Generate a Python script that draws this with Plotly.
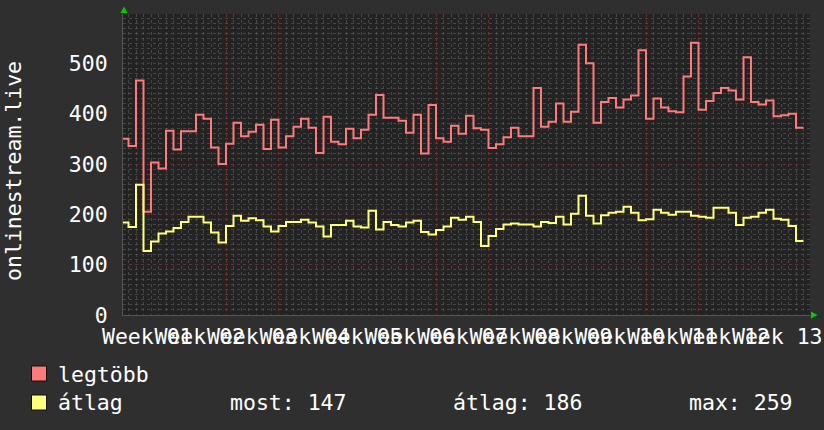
import plotly.graph_objects as go
import pandas as pd

# ---------------- data ----------------
start_date = "2024-01-01"

legtobb_values = [
    350, 336, 466, 205, 303, 291, 366, 329, 365, 365, 398, 390, 333, 300, 340, 382,
    355, 364, 378, 330, 388, 333, 355, 374, 390, 372, 322, 394, 344, 339, 370, 351,
    368, 398, 437, 392, 392, 386, 362, 398, 321, 417, 351, 344, 376, 360, 396, 371,
    368, 332, 339, 353, 372, 355, 355, 451, 374, 384, 420, 384, 404,
    537, 500, 382, 423, 431, 412, 428, 436, 526, 390, 430, 412, 405, 403, 474, 541,
    408, 425, 441, 451, 446, 428, 512, 423, 418, 426, 395, 397, 400, 372,
]

atlag_values = [
    184, 175, 259, 127, 146, 162, 166, 173, 185, 195, 195, 184, 164, 144, 177, 197,
    187, 192, 188, 176, 166, 177, 185, 185, 189, 184, 176, 156, 179, 179, 187, 176,
    174, 207, 170, 185, 179, 176, 184, 187, 165, 160, 169, 176, 193, 189, 195, 185,
    137, 157, 171, 180, 182, 180, 180, 176, 185, 183, 195, 180, 201,
    237, 197, 182, 198, 203, 205, 215, 203, 188, 190, 209, 203, 199, 205, 205, 197,
    195, 193, 213, 213, 203, 179, 193, 195, 203, 209, 191, 189, 177, 147,
]

series_names = ["legtöbb", "átlag"]
series_colors = ["#ff7b7b", "#ffff7b"]
stat_labels = ["most:", "átlag:", "max:"]
stat_values = [147, 186, 259]
y_title = "onlinestream.live"
x_range = ["2024-01-01 06:24", "2024-04-01 20:48"]
y_range = [0, 598]

# ---------------- figure ----------------
W, H = 824, 430
L, R, T, B = 123, 14, 14, 115
PW, PH = W - L - R, H - T - B


def px(x):
    return (x - L) / PW


def py(y):
    return (H - B - y) / PH


FONT = "DejaVu Sans Mono"
FS = 21.5
TXT = "#ffffff"

fig = go.Figure()
for vals, name, col in zip([legtobb_values, atlag_values], series_names, series_colors):
    dates = pd.date_range(start_date, periods=len(vals) + 1, freq="D")
    fig.add_trace(go.Scatter(
        x=dates, y=list(vals) + [vals[-1]], mode="lines", name=name,
        line=dict(color=col, width=2, shape="hv"), showlegend=False,
        hoverinfo="skip",
    ))

major_grid = "rgba(125,50,50,0.8)"
minor_grid = "rgba(105,105,105,0.5)"

fig.update_layout(
    width=W, height=H,
    margin=dict(l=L, r=R, t=T, b=B, autoexpand=False),
    paper_bgcolor="#2f2f2f",
    plot_bgcolor="#232323",
    font=dict(family=FONT, size=FS, color=TXT),
    xaxis=dict(
        type="date", range=x_range, automargin=False,
        tick0="2024-01-01", dtick=7 * 86400000,
        ticklabelmode="period", tickformat="Week %V",
        tickangle=0, ticks="", ticklabelstandoff=2,
        showgrid=True, gridcolor=major_grid, griddash="dot", gridwidth=1,
        minor=dict(dtick=86400000, showgrid=True, gridcolor=minor_grid,
                   griddash="dot", gridwidth=1),
        showline=True, linecolor="#555555", linewidth=1,
        zeroline=False, tickfont=dict(family=FONT, size=FS, color=TXT),
    ),
    yaxis=dict(
        range=y_range, dtick=100, tick0=0, ticks="", ticklabelstandoff=10,
        automargin=False,
        showgrid=True, gridcolor=major_grid, griddash="dot", gridwidth=1,
        minor=dict(dtick=10, showgrid=True, gridcolor=minor_grid,
                   griddash="dot", gridwidth=1),
        showline=True, linecolor="#555555", linewidth=1,
        zeroline=False, tickfont=dict(family=FONT, size=FS, color=TXT),
    ),
)

annotations = [
    dict(x=px(13), y=py(171), xref="paper", yref="paper", text=y_title,
         textangle=-90, showarrow=False, xanchor="center", yanchor="middle",
         font=dict(family=FONT, size=FS, color=TXT)),
]
rows_y = [374, 402]
for name, ry in zip(series_names, rows_y):
    annotations.append(dict(x=px(56), y=py(ry), xref="paper", yref="paper",
                            text=name, showarrow=False, xanchor="left",
                            yanchor="middle",
                            font=dict(family=FONT, size=FS, color=TXT)))
for lab, val, sx in zip(stat_labels, stat_values, [228, 451, 687]):
    annotations.append(dict(x=px(sx), y=py(rows_y[1]), xref="paper", yref="paper",
                            text=f"{lab} {val}", showarrow=False, xanchor="left",
                            yanchor="middle",
                            font=dict(family=FONT, size=FS, color=TXT)))
fig.update_layout(annotations=annotations)

shapes = []
for col, (y0, y1) in zip(series_colors, [(366, 381), (395, 410)]):
    shapes.append(dict(type="rect", xref="paper", yref="paper",
                       x0=px(31.5), x1=px(46.5), y0=py(y1), y1=py(y0),
                       fillcolor=col, line=dict(color="#111111", width=1)))
# axis arrows (rrdtool style)
shapes.append(dict(type="path", xref="paper", yref="paper",
                   path=f"M {px(120.5)},{py(13)} L {px(127.5)},{py(13)} L {px(124)},{py(6.5)} Z",
                   fillcolor="#00cc00", line=dict(color="#00cc00", width=0)))
shapes.append(dict(type="path", xref="paper", yref="paper",
                   path=f"M {px(811)},{py(311.5)} L {px(811)},{py(318.5)} L {px(817.5)},{py(315)} Z",
                   fillcolor="#00cc00", line=dict(color="#00cc00", width=0)))
fig.update_layout(shapes=shapes)

fig.write_html(
    "out.html",
    config={"displayModeBar": False},
    post_script="document.body.style.margin='0';document.body.style.overflow='hidden';",
)
